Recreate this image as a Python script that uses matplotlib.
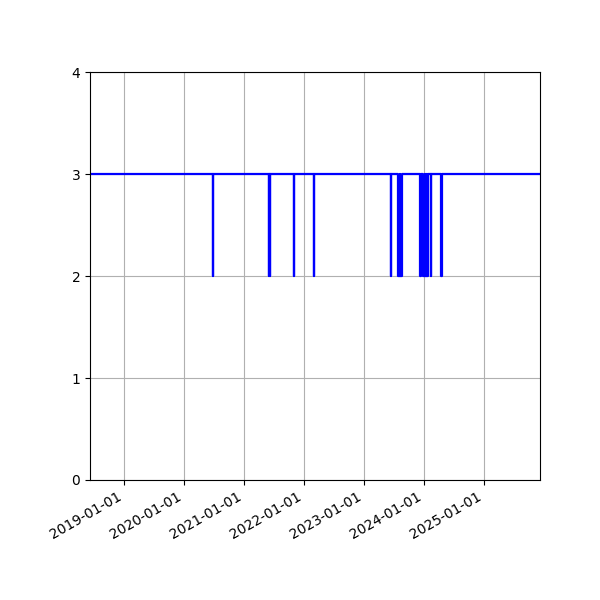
import matplotlib
matplotlib.use('Agg')
import matplotlib.pyplot as plt
import matplotlib.dates as mdates
import numpy as np

# series runs at 3 with short dips down to 2
start_date = '2018-06-08'
end_date = '2025-12-08'
base_level = 3
dip_level = 2

dip_starts = ['2020-06-24', '2021-05-30', '2021-06-05', '2021-11-01',
              '2022-02-28', '2023-06-12', '2023-07-29', '2023-08-09',
              '2023-12-09', '2023-12-29', '2024-01-06',
              '2024-01-14', '2024-01-22', '2024-02-13', '2024-04-17']
dip_ends = ['2020-06-27', '2021-06-04', '2021-06-10', '2021-11-04',
            '2022-03-03', '2023-06-15', '2023-08-07', '2023-08-19',
            '2023-12-12', '2024-01-05', '2024-01-12',
            '2024-01-21', '2024-01-28', '2024-02-16', '2024-04-20']

times = [np.datetime64(start_date)]
values = [base_level]
for s, e in zip(dip_starts, dip_ends):
    times += [np.datetime64(s), np.datetime64(e)]
    values += [dip_level, base_level]
times.append(np.datetime64(end_date))
values.append(base_level)

fig, ax = plt.subplots(figsize=(6, 6), dpi=100)
ax.plot(times, values, color='blue', linewidth=1.6, drawstyle='steps-post')

ax.set_xlim(np.datetime64(start_date), np.datetime64(end_date))
ax.set_ylim(0, 4)
ax.set_yticks([0, 1, 2, 3, 4])
ax.xaxis.set_major_locator(mdates.YearLocator())
ax.xaxis.set_major_formatter(mdates.DateFormatter('%Y-%m-%d'))
ax.grid(True)
fig.autofmt_xdate()
fig.subplots_adjust(left=0.15, right=0.9, top=0.88, bottom=0.2)

plt.savefig('out.png')
